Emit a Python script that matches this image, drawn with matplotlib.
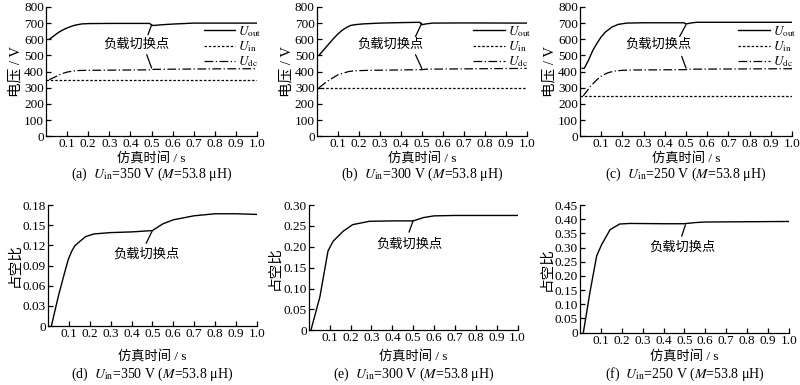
import matplotlib
matplotlib.use("Agg")
import matplotlib.pyplot as plt

plt.rcParams['font.family'] = ['Liberation Serif', 'Noto Sans CJK SC']
plt.rcParams['mathtext.fontset'] = 'stix'
plt.rcParams['font.size'] = 9.5

# ---- voltage plots (a)-(c) ----
t_a_out = [0.015, 0.02, 0.04, 0.06, 0.08, 0.1, 0.12, 0.14, 0.17, 0.2, 0.3, 0.4, 0.49, 0.505, 0.55, 0.6, 0.65, 0.7, 0.8, 1.0]
u_a_out = [600, 604, 624, 643, 658, 670, 680, 688, 695, 697, 698, 698, 698, 685, 690, 694, 697, 700, 700, 700]
t_a_dc = [0.015, 0.04, 0.07, 0.1, 0.13, 0.16, 0.2, 0.3, 0.5, 0.51, 0.6, 0.8, 1.0]
u_a_dc = [350, 365, 385, 397, 404, 407, 408, 409, 411, 414, 415, 417, 418]

t_b_out = [0.01, 0.02, 0.04, 0.06, 0.08, 0.1, 0.12, 0.14, 0.16, 0.18, 0.22, 0.3, 0.4, 0.49, 0.5, 0.52, 0.55, 0.7, 1.0]
u_b_out = [500, 515, 545, 575, 605, 632, 655, 672, 685, 690, 695, 700, 703, 705, 690, 695, 700, 701, 700]
t_b_dc = [0.01, 0.05, 0.1, 0.15, 0.18, 0.25, 0.5, 0.52, 0.7, 1.0]
u_b_dc = [300, 340, 380, 400, 405, 408, 412, 415, 417, 420]

t_c_out = [0.01, 0.02, 0.04, 0.06, 0.08, 0.1, 0.12, 0.15, 0.18, 0.22, 0.3, 0.49, 0.5, 0.52, 0.55, 1.0]
u_c_out = [420, 420, 470, 530, 575, 615, 645, 675, 692, 700, 702, 702, 695, 700, 705, 705]
t_c_dc = [0.015, 0.03, 0.05, 0.08, 0.1, 0.13, 0.16, 0.2, 0.25, 0.5, 0.52, 1.0]
u_c_dc = [250, 275, 310, 350, 372, 392, 403, 408, 410, 412, 415, 418]

u_in = [350, 300, 250]

# ---- duty ratio plots (d)-(f) ----
t_d = [0.016, 0.05, 0.08, 0.097, 0.113, 0.13, 0.18, 0.22, 0.3, 0.4, 0.5, 0.55, 0.6, 0.7, 0.8, 0.9, 1.0]
d_d = [0.0, 0.045, 0.08, 0.099, 0.111, 0.12, 0.133, 0.137, 0.139, 0.140, 0.142, 0.152, 0.158, 0.164, 0.167, 0.167, 0.166]

t_e = [0.01, 0.053, 0.092, 0.116, 0.164, 0.21, 0.29, 0.4, 0.5, 0.55, 0.6, 0.7, 1.0]
d_e = [0.0, 0.08, 0.19, 0.213, 0.237, 0.253, 0.261, 0.262, 0.262, 0.270, 0.274, 0.275, 0.275]

t_f = [0.016, 0.048, 0.08, 0.104, 0.144, 0.19, 0.24, 0.4, 0.5, 0.55, 0.6, 0.8, 1.0]
d_f = [0.0, 0.144, 0.271, 0.311, 0.363, 0.383, 0.385, 0.384, 0.384, 0.388, 0.390, 0.391, 0.392]

captions = ["(a)  $U_{\\rm in}$=350 V ($M$=53.8 μH)",
            "(b)  $U_{\\rm in}$=300 V ($M$=53.8 μH)",
            "(c)  $U_{\\rm in}$=250 V ($M$=53.8 μH)",
            "(d)  $U_{\\rm in}$=350 V ($M$=53.8 μH)",
            "(e)  $U_{\\rm in}$=300 V ($M$=53.8 μH)",
            "(f)  $U_{\\rm in}$=250 V ($M$=53.8 μH)"]

# annotation: text pos, upper line (from, to), lower line (from, to)
ann_top = [
    ((0.43, 566), ((0.483, 628), (0.50, 690)), ((0.477, 505), (0.50, 422))),
    ((0.35, 566), ((0.47, 617), (0.50, 700)), ((0.47, 505), (0.50, 420))),
    ((0.37, 566), ((0.47, 617), (0.50, 690)), ((0.48, 494), (0.50, 422))),
]
ann_bot = [
    ((0.47, 0.106), ((0.47, 0.123), (0.50, 0.142))),
    ((0.48, 0.206), ((0.48, 0.235), (0.50, 0.263))),
    ((0.49, 0.30), ((0.487, 0.34), (0.505, 0.38))),
]

fig = plt.figure(figsize=(8, 3.85), dpi=100)

pos_top = [[0.0575, 0.646, 0.264, 0.336],
           [0.396, 0.646, 0.2625, 0.336],
           [0.725, 0.646, 0.265, 0.336]]
pos_bot = [[0.06, 0.153, 0.261, 0.3145],
           [0.386, 0.142, 0.261, 0.3255],
           [0.725, 0.136, 0.261, 0.3315]]
# figure-fraction heights of x labels and captions (top row, bottom row)
xlab_y = [1 - 158 / 385, 1 - 356 / 385]
cap_y = [1 - 174 / 385, 1 - 374 / 385]

xticks = [0.1, 0.2, 0.3, 0.4, 0.5, 0.6, 0.7, 0.8, 0.9, 1.0]
xticklabels = ["0.1", "0.2", "0.3", "0.4", "0.5", "0.6", "0.7", "0.8", "0.9", "1.0"]


def style(ax, row, caption):
    for s in ["top", "right"]:
        ax.spines[s].set_visible(False)
    for s in ["left", "bottom"]:
        ax.spines[s].set_linewidth(0.9)
    ax.tick_params(direction="in", length=3.5, width=0.9, pad=1.5, labelsize=9.5)
    ax.set_xlim(0, 1.0)
    ax.set_xticks(xticks)
    ax.set_xticklabels(xticklabels)
    ax.set_xlabel("仿真时间 / s", fontsize=9.5, va="center")
    pos = ax.get_position()
    xc = pos.x0 + pos.width / 2
    ax.xaxis.set_label_coords(xc, xlab_y[row], transform=fig.transFigure)
    fig.text(xc, cap_y[row], caption, ha="center", va="center", fontsize=10)


volt = [(t_a_out, u_a_out, t_a_dc, u_a_dc),
        (t_b_out, u_b_out, t_b_dc, u_b_dc),
        (t_c_out, u_c_out, t_c_dc, u_c_dc)]

for i in range(3):
    ax = fig.add_axes(pos_top[i])
    to, uo, td, ud = volt[i]
    ax.plot(to, uo, color="k", lw=1.0, label="$U_{\\rm out}$")
    ax.plot([0, 1.0], [u_in[i], u_in[i]], color="k", lw=0.9, ls=(0, (2, 1.5)), label="$U_{\\rm in}$")
    ax.plot(td, ud, color="k", lw=0.9, ls=(0, (7, 2, 1, 2)), label="$U_{\\rm dc}$")
    style(ax, 0, captions[i])
    ax.set_ylim(0, 800)
    ax.set_yticks(range(0, 801, 100))
    ax.set_ylabel("电压 / V", labelpad=1, fontsize=10.5)
    txt, up, lo = ann_top[i]
    ax.text(txt[0], txt[1], "负载切换点", ha="center", va="center", fontsize=9.5)
    for a, b in (up, lo):
        ax.annotate("", xy=b, xytext=a, arrowprops=dict(arrowstyle="-", color="k", lw=0.9, shrinkA=0, shrinkB=0))
    ax.legend(loc="upper right", bbox_to_anchor=(1.02, 0.87), frameon=False, handlelength=2.4,
              labelspacing=0.05, handletextpad=0.2, borderpad=0, borderaxespad=0, fontsize=9.5)

duty = [(t_d, d_d, 0.18, [0, 0.03, 0.06, 0.09, 0.12, 0.15, 0.18], ["0", "0.03", "0.06", "0.09", "0.12", "0.15", "0.18"]),
        (t_e, d_e, 0.30, [0, 0.05, 0.10, 0.15, 0.20, 0.25, 0.30], ["0", "0.05", "0.10", "0.15", "0.20", "0.25", "0.30"]),
        (t_f, d_f, 0.45, [0, 0.05, 0.10, 0.15, 0.20, 0.25, 0.30, 0.35, 0.40, 0.45],
         ["0", "0.05", "0.10", "0.15", "0.20", "0.25", "0.30", "0.35", "0.40", "0.45"])]

for i in range(3):
    ax = fig.add_axes(pos_bot[i])
    t, d, ymax, yt, ytl = duty[i]
    ax.plot(t, d, color="k", lw=1.0)
    style(ax, 1, captions[3 + i])
    ax.set_ylim(0, ymax)
    ax.set_yticks(yt)
    ax.set_yticklabels(ytl)
    ax.set_ylabel("占空比", labelpad=1, fontsize=10.5)
    txt, ln = ann_bot[i]
    ax.text(txt[0], txt[1], "负载切换点", ha="center", va="center", fontsize=9.5)
    ax.annotate("", xy=ln[1], xytext=ln[0], arrowprops=dict(arrowstyle="-", color="k", lw=0.9, shrinkA=0, shrinkB=0))

fig.savefig("out.png", dpi=100)
